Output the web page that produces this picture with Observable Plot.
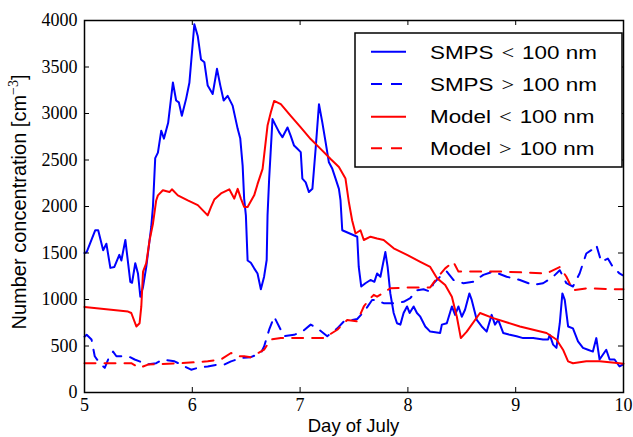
<!DOCTYPE html>
<html><head><meta charset="utf-8">
<script src="https://cdn.jsdelivr.net/npm/d3@7"></script>
<script src="https://cdn.jsdelivr.net/npm/@observablehq/plot@0.6"></script>
<style>body{margin:0;background:#fff} svg{display:block}</style>
</head><body><div id="chart"></div>
<script>
// [day of July, number concentration cm^-3]
const smpsSmall = [
[5.00,1500],[5.02,1510],[5.10,1745],[5.127,1745],[5.173,1530],[5.203,1600],[5.24,1340],[5.277,1350],
[5.323,1480],[5.342,1420],[5.379,1640],[5.425,1190],[5.441,1180],[5.471,1390],[5.496,1280],[5.518,1030],
[5.543,1135],[5.573,1350],[5.619,1780],[5.635,2000],[5.656,2520],[5.681,2580],[5.712,2815],[5.737,2730],
[5.776,2900],[5.820,3333],[5.850,3140],[5.875,3120],[5.903,2975],[5.943,3160],[5.973,3330],[6.019,3960],
[6.051,3830],[6.081,3580],[6.112,3550],[6.143,3300],[6.189,3210],[6.229,3480],[6.260,3300],[6.291,3140],
[6.328,3190],[6.374,3085],[6.421,2835],[6.445,2730],[6.467,2440],[6.481,2085],[6.497,1905],[6.513,1420],
[6.543,1395],[6.574,1335],[6.605,1280],[6.636,1110],[6.666,1245],[6.690,1425],[6.698,1905],[6.713,2300],
[6.744,2940],[6.774,2870],[6.805,2800],[6.836,2745],[6.883,2850],[6.913,2760],[6.944,2655],[6.975,2620],
[7.006,2585],[7.021,2300],[7.052,2260],[7.082,2155],[7.114,2190],[7.144,2620],[7.175,3100],[7.206,2905],
[7.237,2690],[7.267,2475],[7.299,2405],[7.329,2300],[7.360,2190],[7.375,2065],[7.391,1745],[7.530,1675],
[7.544,1350],[7.567,1140],[7.606,1175],[7.653,1210],[7.689,1190],[7.714,1280],[7.745,1245],[7.770,1390],
[7.791,1510],[7.812,1350],[7.837,1065],[7.868,855],[7.899,745],[7.930,730],[7.960,855],[7.992,925],
[8.016,855],[8.053,925],[8.084,855],[8.115,815],[8.161,710],[8.207,655],[8.299,640],[8.315,730],
[8.361,745],[8.408,925],[8.438,835],[8.469,925],[8.500,815],[8.530,890],[8.570,1065],[8.592,995],
[8.639,780],[8.685,710],[8.731,655],[8.777,835],[8.808,730],[8.838,780],[8.884,640],[8.946,620],
[9.008,605],[9.069,585],[9.162,585],[9.254,570],[9.301,570],[9.316,620],[9.347,515],[9.378,480],
[9.409,745],[9.433,1065],[9.455,995],[9.486,710],[9.531,690],[9.578,550],[9.624,480],[9.670,460],
[9.716,440],[9.748,585],[9.778,355],[9.840,460],[9.871,355],[9.917,355],[9.963,280],[9.994,300]
];
const smpsLarge = [
[5.00,600],[5.02,620],[5.065,570],[5.095,390],[5.141,315],[5.188,265],[5.219,355],[5.265,440],
[5.296,390],[5.358,390],[5.404,390],[5.465,355],[5.511,335],[5.573,300],[5.665,315],[5.727,355],
[5.835,335],[5.896,300],[5.989,245],[6.051,265],[6.143,280],[6.236,300],[6.297,300],[6.359,335],
[6.451,370],[6.543,380],[6.636,425],[6.666,495],[6.713,675],[6.759,815],[6.805,710],[6.851,605],
[6.944,620],[7.021,655],[7.098,730],[7.160,690],[7.252,605],[7.345,690],[7.406,765],[7.530,790],
[7.606,890],[7.668,995],[7.714,995],[7.775,960],[7.868,960],[7.960,975],[8.022,1015],[8.084,1100],
[8.145,1110],[8.207,1085],[8.238,1175],[8.299,1245],[8.361,1300],[8.422,1210],[8.515,1175],[8.607,1190],
[8.700,1265],[8.792,1300],[8.916,1245],[9.039,1210],[9.162,1155],[9.254,1175],[9.347,1245],[9.409,1315],
[9.470,1175],[9.531,1140],[9.593,1280],[9.655,1495],[9.701,1530],[9.748,1585],[9.794,1405],[9.855,1440],
[9.901,1350],[9.963,1280],[9.994,1260]
];
const modelSmall = [
[5.00,920],[5.404,870],[5.434,855],[5.481,710],[5.511,745],[5.527,925],[5.543,1300],[5.573,1390],
[5.604,1640],[5.635,1815],[5.665,2065],[5.681,2120],[5.727,2175],[5.788,2155],[5.811,2185],[5.866,2120],
[5.958,2065],[6.051,2015],[6.143,1905],[6.174,1995],[6.204,2075],[6.266,2140],[6.343,2185],[6.389,2085],
[6.421,2190],[6.451,2085],[6.481,1995],[6.513,1995],[6.574,2120],[6.605,2240],[6.652,2405],[6.698,2870],
[6.728,3010],[6.759,3135],[6.821,3100],[6.913,2975],[7.006,2850],[7.098,2725],[7.190,2620],[7.283,2510],
[7.360,2425],[7.421,2300],[7.452,2050],[7.483,1850],[7.514,1710],[7.560,1745],[7.591,1640],[7.653,1675],
[7.714,1655],[7.775,1640],[7.868,1550],[7.992,1480],[8.115,1405],[8.207,1350],[8.269,1230],[8.346,1155],
[8.408,1030],[8.454,815],[8.491,585],[8.546,655],[8.669,855],[8.792,800],[9.039,710],[9.286,640],
[9.378,570],[9.439,460],[9.486,335],[9.531,315],[9.655,335],[9.778,335],[9.963,315],[10.0,310]
];
const modelLarge = [
[5.00,315],[5.434,315],[5.511,265],[5.589,300],[5.896,315],[6.143,335],[6.266,355],[6.359,425],
[6.421,390],[6.481,390],[6.543,380],[6.666,460],[6.728,570],[6.821,585],[7.006,585],[7.221,585],
[7.345,675],[7.437,780],[7.530,765],[7.591,925],[7.637,995],[7.683,1050],[7.714,1030],[7.837,1120],
[7.992,1130],[8.207,1130],[8.269,1230],[8.346,1335],[8.422,1405],[8.469,1300],[8.577,1300],[8.884,1300],
[9.286,1280],[9.409,1350],[9.470,1245],[9.531,1100],[9.655,1120],[9.963,1110],[10.0,1110]
];
const xTicks = [5,6,7,8,9,10];
const yTicks = [0,500,1000,1500,2000,2500,3000,3500,4000];
const seriesNames = [["SMPS","<","100 nm"],["SMPS",">","100 nm"],["Model","<","100 nm"],["Model",">","100 nm"]];
const seriesColors = ["#0000ff","#0000ff","#ff0000","#ff0000"];
const seriesDash = ["none","11,9","none","11,9"];
const xLabel = "Day of July";
const yLabel = "Number concentration [cm";

const W = 633, H = 437, mL = 84, mR = 10, mT = 20, mB = 45;
const plotW = W - mL - mR, plotH = H - mT - mB;
const series = [smpsSmall, smpsLarge, modelSmall, modelLarge];

const marks = [];
series.forEach((s, i) => {
  marks.push(Plot.line(s, {x: d => d[0], y: d => d[1], stroke: seriesColors[i], strokeWidth: 2,
    strokeDasharray: seriesDash[i], strokeLinejoin: "round"}));
});
marks.push(
  Plot.axisX(xTicks, {tickSize: 0, tickPadding: 6, fontSize: 18, fontFamily: "Liberation Serif", tickFormat: d => String(d), label: null}),
  Plot.axisY(yTicks, {tickSize: 0, tickPadding: 7, fontSize: 18, fontFamily: "Liberation Serif", tickFormat: d => String(d), label: null}),
  Plot.tickX(xTicks, {x: d => d, stroke: "black", strokeWidth: 1, insetTop: plotH - 5}),
  Plot.tickX(xTicks, {x: d => d, stroke: "black", strokeWidth: 1, insetBottom: plotH - 5}),
  Plot.tickY(yTicks, {y: d => d, stroke: "black", strokeWidth: 1, insetRight: plotW - 5}),
  Plot.tickY(yTicks, {y: d => d, stroke: "black", strokeWidth: 1, insetLeft: plotW - 5}),
  Plot.frame({stroke: "black", strokeWidth: 1.5})
);

const svg = Plot.plot({
  width: W, height: H,
  marginLeft: mL, marginRight: mR, marginTop: mT, marginBottom: mB,
  x: {domain: [5, 10]},
  y: {domain: [0, 4000]},
  style: {background: "#fff", fontFamily: "Liberation Serif", fontSize: "18px", color: "black"},
  marks
});
document.getElementById("chart").appendChild(svg);

const s = d3.select(svg);
// axis titles
s.append("text").attr("x", mL + plotW / 2).attr("y", 432).attr("text-anchor", "middle")
  .attr("font-family", "Liberation Sans").attr("font-size", 18.5).attr("fill", "black").text(xLabel);
const yl = s.append("text").attr("transform", `translate(26,202) rotate(-90)`)
  .attr("text-anchor", "middle").attr("font-family", "Liberation Sans").attr("font-size", 20).attr("fill", "black");
yl.append("tspan").text(yLabel);
yl.append("tspan").attr("font-family", "Liberation Serif").attr("font-size", 14).attr("dy", -8).text("\u22123");
yl.append("tspan").attr("dy", 8).text("]");

// legend
const lg = s.append("g");
lg.append("rect").attr("x", 355).attr("y", 33).attr("width", 267).attr("height", 134)
  .attr("fill", "white").attr("stroke", "black").attr("stroke-width", 1.5);
const rowY = [51.7, 84, 116.7, 148.3];
const rowBase = [58.5, 90.8, 123.3, 155.3];
seriesNames.forEach((n, i) => {
  lg.append("line").attr("x1", 371).attr("x2", 406).attr("y1", rowY[i]).attr("y2", rowY[i])
    .attr("stroke", seriesColors[i]).attr("stroke-width", 2).attr("stroke-dasharray", seriesDash[i]);
  const t = lg.append("text").attr("transform", `translate(430,${rowBase[i]}) scale(1.18,1)`)
    .attr("text-anchor", "start")
    .attr("font-family", "Liberation Sans").attr("font-size", 19).attr("fill", "black");
  t.append("tspan").text(n[0] + " ");
  t.append("tspan").attr("font-family", "Liberation Serif").attr("dx", 1.5).text(n[1]);
  t.append("tspan").attr("dx", 1.5).text(" " + n[2]);
});
</script></body></html>
